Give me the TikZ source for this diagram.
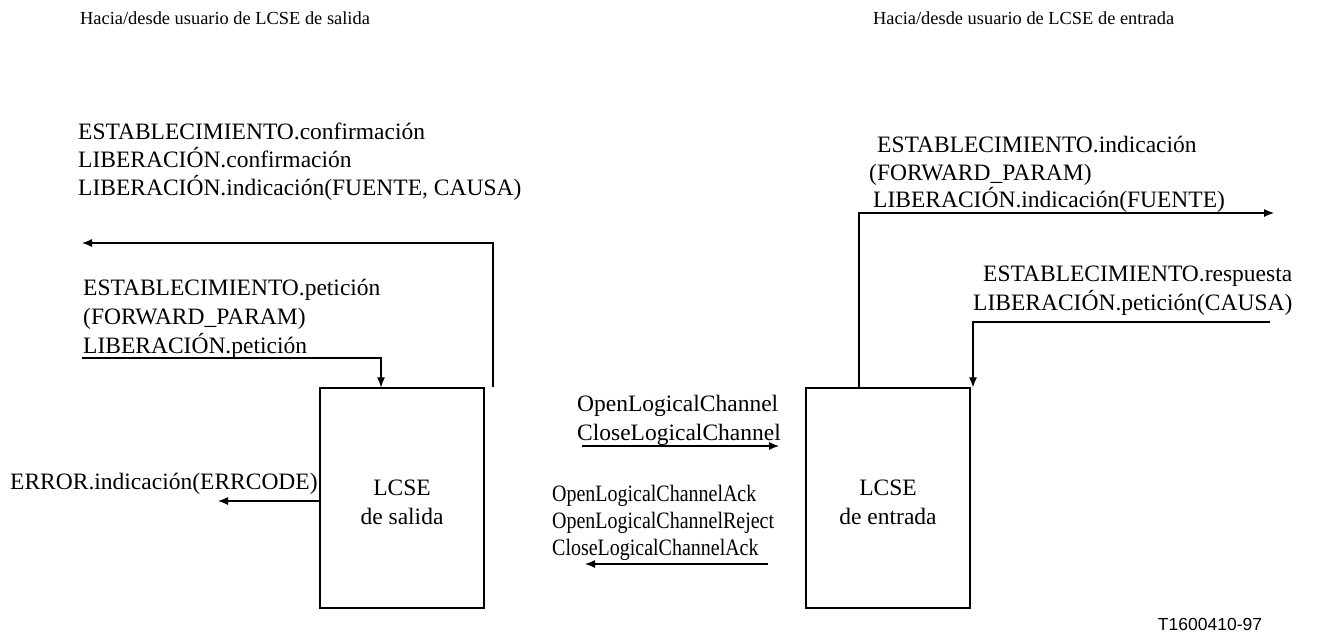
\documentclass[tikz,border=0pt]{standalone}
\usepackage{fontspec}
\setmainfont{Liberation Serif}
\newfontfamily\labelsans{Liberation Sans}
\newfontfamily\narrowserif[FakeStretch=0.85]{Liberation Serif}
\usetikzlibrary{arrows.meta}
\begin{document}
\begin{tikzpicture}[x=1pt,y=-1pt,
  txt/.style={anchor=base west,inner sep=0pt,font=\fontsize{23.5}{28}\selectfont},
  ntxt/.style={anchor=base west,inner sep=0pt,font=\narrowserif\fontsize{23.5}{28}\selectfont},
  hdr/.style={anchor=base west,inner sep=0pt,font=\fontsize{18.4}{22}\selectfont},
  boxn/.style={draw,line width=1.2pt,minimum width=164pt,minimum height=220pt,inner sep=0pt},
  boxtxt/.style={inner sep=0pt,align=center,font=\fontsize{23.5}{29}\selectfont},
  arr/.style={line width=1.2pt,-{Latex[length=10pt,width=8pt]}}]
\useasboundingbox (0,0) rectangle (1317,641);

% headers
\node[hdr] (h1) at (80,24) {Hacia/desde usuario de LCSE de salida};
\node[hdr] (h2) at (873,24) {Hacia/desde usuario de LCSE de entrada};

% boxes
\node[boxn] (lsal) at (402,498) {};
\node[boxn] (lent) at (888,498) {};
\node[boxtxt] (lsalt) at ([yshift=-4.5pt]lsal.center) {LCSE\\de salida};
\node[boxtxt] (lentt) at ([yshift=-4.5pt]lent.center) {LCSE\\de entrada};

% left top block
\node[txt] (a1) at (78,139) {ESTABLECIMIENTO.confirmación};
\node[txt] (a2) at (78,167) {LIBERACIÓN.confirmación};
\node[txt] (a3) at (78,195) {LIBERACIÓN.indicación(FUENTE, CAUSA)};
\coordinate (a4) at (493,243);
\coordinate (a5) at (82,243);
\draw[arr] (a4 |- lsal.north) -- (a4) -- (a5);

% left second block
\node[txt] (b1) at (83,295) {ESTABLECIMIENTO.petición};
\node[txt] (b2) at (83,324) {(FORWARD\_PARAM)};
\node[txt] (b3) at (83,353) {LIBERACIÓN.petición};
\coordinate (b4) at (82,358);
\coordinate (b5) at (381,358);
\draw[arr] (b4) -- (b5) -- (b5 |- lsal.north);

% error
\node[txt] (e1) at (10,489) {ERROR.indicación(ERRCODE)};
\coordinate (e2) at (218,501);
\draw[arr] (e2 -| lsal.west) -- (e2);

% middle
\node[txt] (m1) at (577,411) {OpenLogicalChannel};
\node[txt] (m2) at (577,440) {CloseLogicalChannel};
\coordinate (m3) at (582,446);
\coordinate (m4) at (779,446);
\draw[arr] (m3) -- (m4);

\node[ntxt] (n1) at (552,501) {OpenLogicalChannelAck};
\node[ntxt] (n2) at (552,528) {OpenLogicalChannelReject};
\node[ntxt] (n3) at (552,555) {CloseLogicalChannelAck};
\coordinate (n4) at (768,564);
\coordinate (n5) at (585,564);
\draw[arr] (n4) -- (n5);

% right top block
\node[txt] (c1) at (877,152) {ESTABLECIMIENTO.indicación};
\node[txt] (c2) at (869,180) {(FORWARD\_PARAM)};
\node[txt] (c3) at (873,207) {LIBERACIÓN.indicación(FUENTE)};
\coordinate (c4) at (859,213);
\coordinate (c5) at (1274,213);
\draw[arr] (c4 |- lent.north) -- (c4) -- (c5);

% right second block
\node[txt] (d1) at (983,281) {ESTABLECIMIENTO.respuesta};
\node[txt] (d2) at (973,310) {LIBERACIÓN.petición(CAUSA)};
\coordinate (d3) at (1270,322);
\coordinate (d4) at (973,322);
\draw[arr] (d3) -- (d4) -- (d4 |- lent.north);

% figure id
\node[inner sep=0pt,font=\labelsans\fontsize{17.5}{20}\selectfont] (t) at (1210,624) {T1600410-97};
\end{tikzpicture}
\end{document}
